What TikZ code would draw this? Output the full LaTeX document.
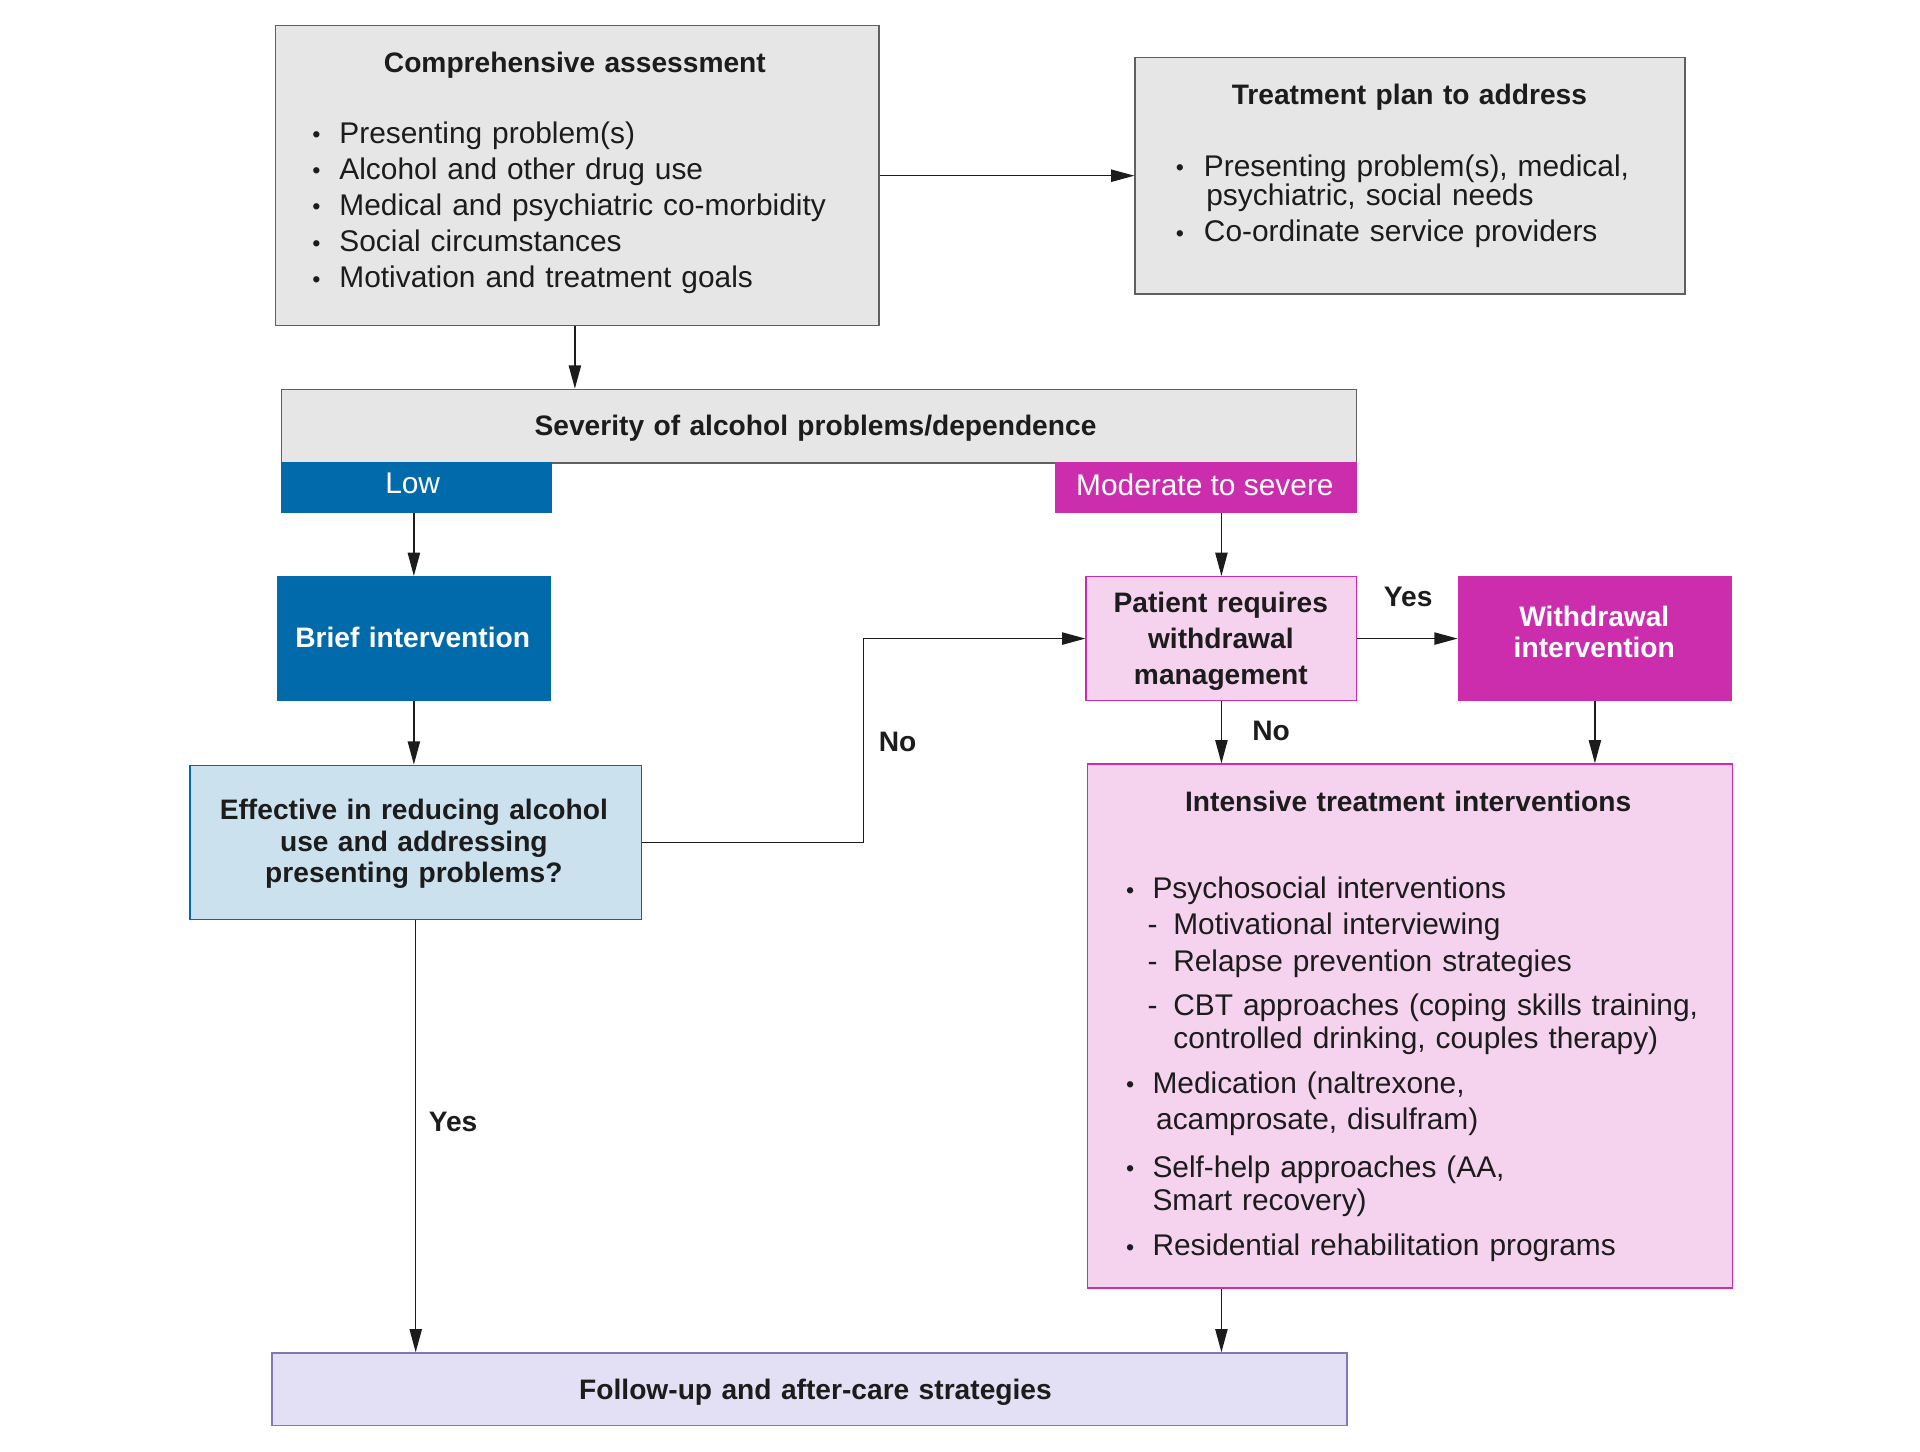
\documentclass[tikz,border=0pt]{standalone}
\usepackage{fontspec}
\setmainfont{Liberation Sans}
\usepackage{xcolor}
\usetikzlibrary{arrows.meta}

\definecolor{boxgray}{HTML}{E6E6E6}
\definecolor{linegray}{HTML}{606060}
\definecolor{lowblue}{HTML}{006AAB}
\definecolor{paleblue}{HTML}{CCE1EE}
\definecolor{modpink}{HTML}{CC2DAC}
\definecolor{palepink}{HTML}{F5D3EE}
\definecolor{palelav}{HTML}{E3DFF5}
\definecolor{lavline}{HTML}{8178B8}
\definecolor{ink}{HTML}{1C1C1C}

\newcommand{\txt}{\fontsize{24.4}{29.5}\selectfont}
\newcommand{\txtb}{\fontsize{23}{29.5}\selectfont\bfseries}
\newcommand{\bul}[1]{\makebox[#1][l]{\raisebox{0.5pt}{\fontsize{19}{19}\selectfont •}}}
\newcommand{\dsh}{\hspace*{17.5pt}\makebox[21pt][l]{-}}

\begin{document}
\begin{tikzpicture}[x=1pt,y=-1pt,
    arr/.style={-{Triangle[length=19pt,width=10pt]},line width=1.2pt,draw=ink},
    panel/.style={draw,rectangle,inner sep=0pt,line width=1.2pt},
    graypanel/.style={panel,fill=boxgray,draw=linegray},
    bluepanel/.style={panel,fill=lowblue,draw=lowblue},
    paleblue panel/.style={panel,fill=paleblue,draw=lowblue},
    pinkpanel/.style={panel,fill=modpink,draw=modpink},
    palepink panel/.style={panel,fill=palepink,draw=modpink},
    lavpanel/.style={panel,fill=palelav,draw=lavline},
    titletext/.style={inner sep=0pt,anchor=base,text=ink,font=\txtb,text width=640pt,align=center},
    itemtext/.style={inner sep=0pt,anchor=base west,text=ink,font=\txt,text width=490pt,align=left},
    answer/.style={inner sep=0pt,anchor=base,text=ink,font=\txtb}]
    \useasboundingbox (0,0) rectangle (1568,1185);

    % top row
    \node[graypanel,minimum width=493pt,minimum height=245pt] (assess) at (471.5,143.5) {};
    \node[titletext] (assesstitle) at (469.5,59) {Comprehensive assessment};
    \node[itemtext] (assesslist) at (255,117) {\bul{22pt}Presenting problem(s)\\
        \bul{22pt}Alcohol and other drug use\\
        \bul{22pt}Medical and psychiatric co-morbidity\\
        \bul{22pt}Social circumstances\\
        \bul{22pt}Motivation and treatment goals};
    \node[graypanel,minimum width=449pt,minimum height=193pt] (plan) at (1151.5,143.5) {};
    \node[titletext] (plantitle) at (1151,85) {Treatment plan to address};
    \node[itemtext] (planlist) at (960,144) {\bul{23pt}Presenting problem(s), medical,\\[-5.5pt]
        \hspace*{25pt}psychiatric, social needs\\
        \bul{23pt}Co-ordinate service providers};

    % severity and its two tabs
    \node[graypanel,minimum width=878pt,minimum height=60pt] (sev) at (669,348) {};
    \node[titletext] (sevtitle) at (666,356) {Severity of alcohol problems/dependence};
    \node[bluepanel,minimum width=220pt,minimum height=40pt] (low) at (340,398) {};
    \node[answer,text=white,font=\txt] (lowtext) at (337,403) {Low};
    \node[pinkpanel,minimum width=246pt,minimum height=40pt] (mod) at (985,398) {};
    \node[answer,text=white,font=\txt] (modtext) at (984,405) {Moderate to severe};

    % left branch
    \node[bluepanel,minimum width=222pt,minimum height=101pt] (brief) at (338,521.5) {};
    \node[titletext,text=white] (brieftext) at (337,529) {Brief intervention};
    \node[paleblue panel,minimum width=369pt,minimum height=126pt] (eff) at (339.5,688) {};
    \node[titletext,font=\fontsize{23}{26}\selectfont\bfseries] (efftext) at (338,669) {Effective in reducing alcohol\\
        use and addressing\\ presenting problems?};

    % right branch
    \node[palepink panel,minimum width=221pt,minimum height=101pt] (pat) at (997.5,521.5) {};
    \node[titletext] (pattext) at (997,500) {Patient requires\\ withdrawal\\ management};
    \node[pinkpanel,minimum width=223pt,minimum height=101pt] (wd) at (1302.5,521.5) {};
    \node[titletext,text=white,font=\fontsize{23}{25}\selectfont\bfseries] (wdtext) at (1302,512) {Withdrawal\\ intervention};
    \node[palepink panel,minimum width=527pt,minimum height=428pt] (int) at (1151.5,838) {};
    \node[titletext] (inttitle) at (1150,663) {Intensive treatment interventions};
    \node[itemtext] (intlist) at (919.5,734) {\bul{21.5pt}Psychosocial interventions\\
        \dsh Motivational interviewing\\
        \dsh Relapse prevention strategies\\[6.5pt]
        \dsh CBT approaches (coping skills training,\\[-2.5pt]
        \hspace*{38.5pt}controlled drinking, couples therapy)\\[7.5pt]
        \bul{21.5pt}Medication (naltrexone,\\
        \hspace*{24.5pt}acamprosate, disulfram)\\[9.5pt]
        \bul{21.5pt}Self-help approaches (AA,\\[-2.5pt]
        \hspace*{21.5pt}Smart recovery)\\[7.5pt]
        \bul{21.5pt}Residential rehabilitation programs};

    % bottom
    \node[lavpanel,minimum width=878pt,minimum height=59pt] (fol) at (661,1134.5) {};
    \node[titletext] (foltext) at (666,1143) {Follow-up and after-care strategies};

    % connectors
    \coordinate (turn) at (705,600);
    \draw[arr] (assess.east |- plan.west) -- (plan.west);
    \draw[arr] (assess.south -| assesstitle.base) -- (assesstitle.base |- sev.north);
    \draw[arr] (low.south -| brief.north) -- (brief.north);
    \draw[arr] (brief.south) -- (brief.south |- eff.north);
    \draw[arr] (eff.east) -| (turn) |- (pat.west);
    \draw[arr] (eff.south) -- (eff.south |- fol.north);
    \draw[arr] (mod.south -| pat.north) -- (pat.north);
    \draw[arr] (pat.east) -- (wd.west);
    \draw[arr] (pat.south) -- (pat.south |- int.north);
    \draw[arr] (wd.south) -- (wd.south |- int.north);
    \draw[arr] (int.south -| pat.south) -- (pat.south |- fol.north);

    \node[answer] (nolow) at (733,614) {No};
    \node[answer] (yeslow) at (370,924) {Yes};
    \node[answer] (yeswd) at (1150,495) {Yes};
    \node[answer] (nowd) at (1038,605) {No};
\end{tikzpicture}
\end{document}
